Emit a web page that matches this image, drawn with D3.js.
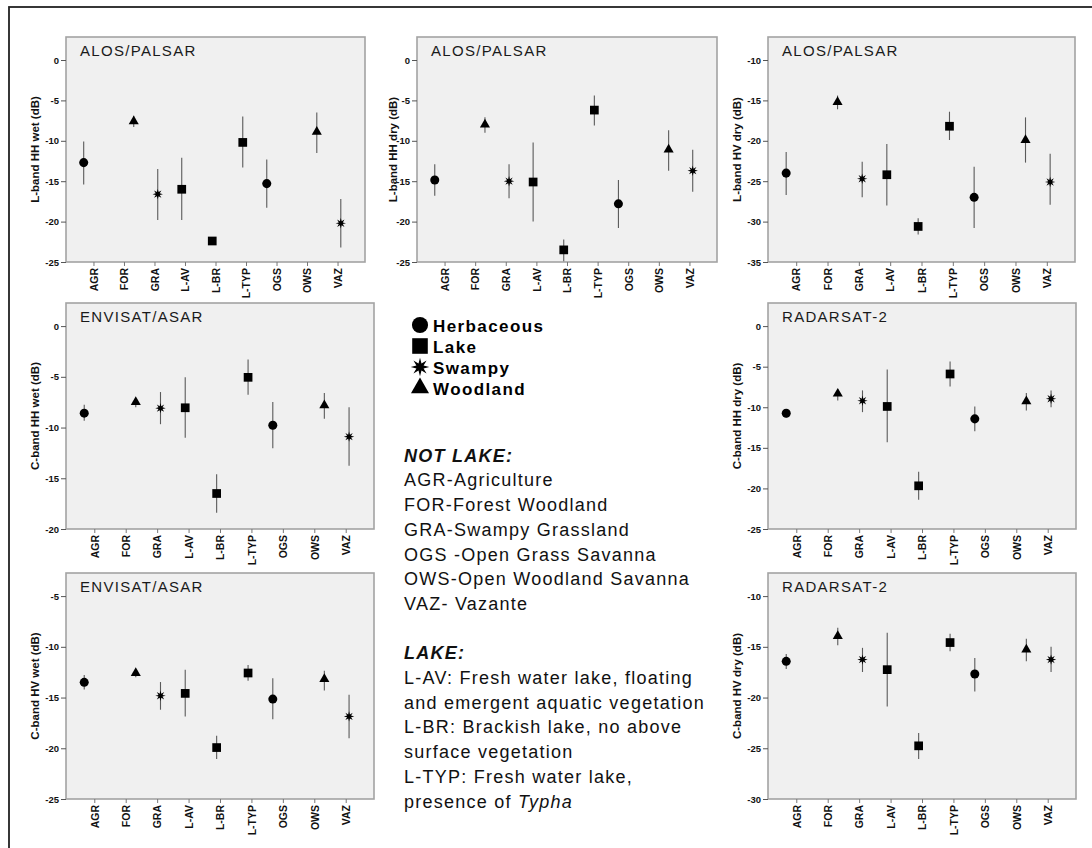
<!DOCTYPE html>
<html>
<head>
<meta charset="utf-8">
<script src="https://cdn.jsdelivr.net/npm/d3@7"></script>
<style>
  body { margin: 0; background: #fff; }
  svg { display: block; }
  text { font-family: "Liberation Sans", Arimo, Arial, sans-serif; }
</style>
</head>
<body>
<svg id="fig" width="1092" height="848"></svg>
<script>
// ---- categories and groups ----
const categories = ["AGR", "FOR", "GRA", "L-AV", "L-BR", "L-TYP", "OGS", "OWS", "VAZ"];
const categoryGroup = ["Herbaceous", "Woodland", "Swampy", "Lake", "Lake", "Lake", "Herbaceous", "Woodland", "Swampy"];
const groups = ["Herbaceous", "Lake", "Swampy", "Woodland"];

// ---- ALOS/PALSAR L-band HH wet (dB): mean and error bar ends ----
const alosHHwetMean = [-12.7, -7.6, -16.6, -16.0, -22.4, -10.2, -15.3, -8.9, -20.2];
const alosHHwetLow  = [-15.4, -8.3, -19.8, -19.8, -22.9, -13.3, -18.3, -11.5, -23.2];
const alosHHwetHigh = [-10.1, -6.9, -13.5, -12.1, -21.9, -7.0, -12.3, -6.5, -17.2];
const alosHHwetTicks = [-25, -20, -15, -10, -5, 0];

// ---- ALOS/PALSAR L-band HH dry ----
const alosHHdryMean = [-14.85, -8.0, -15.0, -15.1, -23.5, -6.2, -17.8, -11.1, -13.7];
const alosHHdryLow  = [-16.8, -9.0, -17.1, -20.0, -24.9, -8.1, -20.8, -13.7, -16.3];
const alosHHdryHigh = [-12.9, -7.1, -12.9, -10.2, -22.2, -4.4, -14.85, -8.7, -11.1];
const alosHHdryTicks = [-25, -20, -15, -10, -5, 0];

// ---- ALOS/PALSAR L-band HV dry ----
const alosHVdryMean = [-24.0, -15.2, -24.7, -24.2, -30.6, -18.2, -27.0, -19.9, -25.1];
const alosHVdryLow  = [-26.7, -16.1, -27.0, -28.0, -31.6, -19.9, -30.8, -22.7, -27.9];
const alosHVdryHigh = [-21.4, -14.4, -22.6, -20.4, -29.6, -16.4, -23.2, -17.1, -21.6];
const alosHVdryTicks = [-35, -30, -25, -20, -15, -10];

// ---- ENVISAT/ASAR C-band HH wet ----
const envHHwetMean = [-8.58, -7.5, -8.09, -8.05, -16.5, -5.05, -9.77, -7.82, -10.9];
const envHHwetLow  = [-9.34, -7.99, -9.67, -11.0, -18.4, -6.77, -12.05, -9.14, -13.76];
const envHHwetHigh = [-7.76, -7.16, -6.5, -5.05, -14.6, -3.3, -7.49, -6.6, -8.0];
const envHHwetTicks = [-20, -15, -10, -5, 0];

// ---- RADARSAT-2 C-band HH dry ----
const radHHdryMean = [-10.73, -8.33, -9.2, -9.9, -19.68, -5.9, -11.43, -9.28, -8.95];
const radHHdryLow  = [-11.26, -9.16, -10.6, -14.3, -21.4, -7.43, -12.95, -10.4, -10.0];
const radHHdryHigh = [-10.2, -7.76, -7.92, -5.36, -17.95, -4.37, -9.9, -8.25, -7.92];
const radHHdryTicks = [-25, -20, -15, -10, -5, 0];

// ---- ENVISAT/ASAR C-band HV wet ----
const envHVwetMean = [-13.5, -12.58, -14.82, -14.59, -19.93, -12.58, -15.15, -13.17, -16.86];
const envHVwetLow  = [-14.2, -13.0, -16.2, -16.86, -21.05, -13.34, -17.13, -14.3, -19.0];
const envHVwetHigh = [-12.78, -12.25, -13.47, -12.25, -18.77, -11.8, -13.1, -12.35, -14.72];
const envHVwetTicks = [-25, -20, -15, -10, -5];

// ---- RADARSAT-2 C-band HV dry ----
const radHVdryMean = [-16.43, -13.95, -16.26, -17.25, -24.76, -14.58, -17.68, -15.27, -16.26];
const radHVdryLow  = [-17.18, -14.84, -17.48, -20.87, -26.05, -15.44, -19.4, -16.43, -17.48];
const radHVdryHigh = [-15.7, -13.13, -15.1, -13.62, -23.5, -13.72, -16.1, -14.2, -15.0];
const radHVdryTicks = [-30, -25, -20, -15, -10];

// ---- legend / glossary text ----
const notLakeLines = ["AGR-Agriculture", "FOR-Forest Woodland", "GRA-Swampy Grassland",
  "OGS -Open Grass Savanna", "OWS-Open Woodland Savanna", "VAZ- Vazante"];
const lakeLines = ["L-AV: Fresh water lake, floating", "and emergent aquatic vegetation",
  "L-BR: Brackish lake, no above", "surface vegetation", "L-TYP: Fresh water lake,"];

const FONT = "'Liberation Sans', Arimo, Arial, sans-serif";

// asterisk-like filled star used for the Swampy group
const symbolAsterisk = {
  draw(ctx, size) {
    const r = Math.sqrt(size) * 0.62, ri = r * 0.42, n = 8;
    for (let i = 0; i < 2 * n; i++) {
      const a = i * Math.PI / n - Math.PI / 2;
      const rr = i % 2 ? ri : r;
      const px = rr * Math.cos(a), py = rr * Math.sin(a);
      i ? ctx.lineTo(px, py) : ctx.moveTo(px, py);
    }
    ctx.closePath();
  }
};
const groupSymbol = {
  Herbaceous: { type: d3.symbolCircle, size: 64 },
  Lake: { type: d3.symbolSquare, size: 76 },
  Swampy: { type: symbolAsterisk, size: 70 },
  Woodland: { type: d3.symbolTriangle, size: 44 }
};

// panel table: data references plus where each panel sits
const panels = [
  { title: "ALOS/PALSAR", ylab: "L-band HH wet (dB)", mean: alosHHwetMean, lo: alosHHwetLow, hi: alosHHwetHigh, ticks: alosHHwetTicks, box: [66, 37, 365, 262], labOff: 31 },
  { title: "ALOS/PALSAR", ylab: "L-band HH dry (dB)", mean: alosHHdryMean, lo: alosHHdryLow, hi: alosHHdryHigh, ticks: alosHHdryTicks, box: [417, 37, 717, 262], labOff: 24 },
  { title: "ALOS/PALSAR", ylab: "L-band HV dry (dB)", mean: alosHVdryMean, lo: alosHVdryLow, hi: alosHVdryHigh, ticks: alosHVdryTicks, box: [768, 37, 1075, 262], labOff: 31 },
  { title: "ENVISAT/ASAR", ylab: "C-band HH wet (dB)", mean: envHHwetMean, lo: envHHwetLow, hi: envHHwetHigh, ticks: envHHwetTicks, box: [66, 303, 374, 529], labOff: 31 },
  { title: "RADARSAT-2", ylab: "C-band HH dry (dB)", mean: radHHdryMean, lo: radHHdryLow, hi: radHHdryHigh, ticks: radHHdryTicks, box: [768, 303, 1076, 529], labOff: 31 },
  { title: "ENVISAT/ASAR", ylab: "C-band HV wet (dB)", mean: envHVwetMean, lo: envHVwetLow, hi: envHVwetHigh, ticks: envHVwetTicks, box: [66, 573, 374, 799], labOff: 31 },
  { title: "RADARSAT-2", ylab: "C-band HV dry (dB)", mean: radHVdryMean, lo: radHVdryLow, hi: radHVdryHigh, ticks: radHVdryTicks, box: [768, 573, 1076, 799], labOff: 31 }
];

const svg = d3.select("#fig");

// outer frame (runs past the right and bottom of the figure)
svg.append("rect")
  .attr("x", 9).attr("y", 7).attr("width", 1200).attr("height", 1000)
  .attr("fill", "none").attr("stroke", "#222").attr("stroke-width", 1.8);

panels.forEach(p => {
  const [x0, y0, x1, y1] = p.box;
  const g = svg.append("g");
  const tMin = p.ticks[0], tMax = p.ticks[p.ticks.length - 1];
  // the top tick sits a little below the frame top
  const yTop = tMax + (tMax - tMin) * 23 / 202;
  const y = d3.scaleLinear().domain([tMin, yTop]).range([y1, y0]);
  const x = d3.scalePoint().domain(categories).range([x0, x1]).padding(0.9);
  const step = x.step();
  const dodge = d3.scalePoint().domain(groups).range([-0.32 * step, 0.32 * step]);

  g.append("rect")
    .attr("x", x0).attr("y", y0).attr("width", x1 - x0).attr("height", y1 - y0)
    .attr("fill", "#f0f0f0").attr("stroke", "#a3a3a3").attr("stroke-width", 1.6);

  // y axis
  const ya = g.append("g").attr("transform", `translate(${x0},0)`)
    .call(d3.axisLeft(y).tickValues(p.ticks).tickSize(5).tickPadding(2).tickFormat(d => String(d)));
  ya.attr("font-family", FONT);
  ya.select(".domain").remove();
  ya.selectAll("line").attr("stroke", "#555");
  ya.selectAll("text").attr("font-size", 9.5).attr("font-weight", "bold").attr("fill", "#111");

  // x axis with rotated category labels
  const xa = g.append("g").attr("transform", `translate(0,${y1})`)
    .call(d3.axisBottom(x).tickSize(4));
  xa.attr("font-family", FONT);
  xa.select(".domain").remove();
  xa.selectAll("line").attr("stroke", "#777");
  xa.selectAll("text")
    .attr("transform", "rotate(-90)")
    .attr("text-anchor", "end")
    .attr("x", -6).attr("y", 0).attr("dy", "0.36em")
    .attr("font-size", 10.5).attr("font-weight", "bold").attr("fill", "#111");

  // y axis title
  g.append("text")
    .attr("transform", `translate(${x0 - p.labOff},${(y0 + y1) / 2}) rotate(-90)`)
    .attr("text-anchor", "middle").attr("dy", "0.36em")
    .attr("font-size", 11.5).attr("font-weight", "bold").attr("fill", "#111")
    .text(p.ylab);

  // panel title
  g.append("text")
    .attr("x", x0 + 14).attr("y", y0 + 18.5)
    .attr("font-size", 15).attr("letter-spacing", 1.3).attr("fill", "#1a1a1a")
    .text(p.title);

  const rows = categories.map((c, i) => ({
    cat: c, grp: categoryGroup[i], mean: p.mean[i], lo: p.lo[i], hi: p.hi[i]
  }));
  const px = d => x(d.cat) + dodge(d.grp);

  g.selectAll(".err").data(rows).join("line")
    .attr("x1", px).attr("x2", px)
    .attr("y1", d => y(d.lo)).attr("y2", d => y(d.hi))
    .attr("stroke", "#5a5a5a").attr("stroke-width", 1.1);

  g.selectAll(".pt").data(rows).join("path")
    .attr("transform", d => `translate(${px(d)},${y(d.mean)})`)
    .attr("d", d => d3.symbol().type(groupSymbol[d.grp].type).size(groupSymbol[d.grp].size)())
    .attr("fill", "#000");
});

// ---- legend ----
const legend = svg.append("g");
groups.forEach((grp, i) => {
  const cy = 325 + i * 21;
  const s = groupSymbol[grp];
  legend.append("path")
    .attr("transform", `translate(420,${cy})`)
    .attr("d", d3.symbol().type(s.type).size(s.size * 3.2)())
    .attr("fill", "#000");
  legend.append("text")
    .attr("x", 433).attr("y", cy + 6.5)
    .attr("font-size", 17).attr("font-weight", "bold").attr("letter-spacing", 1.4).attr("fill", "#000")
    .text(grp);
});

// ---- glossary ----
const lineH = 24.7, textX = 404;
let ly = 461.7;
const gloss = svg.append("g").attr("font-size", 18).attr("letter-spacing", 1.25).attr("fill", "#111");
gloss.append("text").attr("x", textX).attr("y", ly)
  .attr("font-weight", "bold").attr("font-style", "italic").text("NOT LAKE:");
notLakeLines.forEach(t => { ly += lineH; gloss.append("text").attr("x", textX).attr("y", ly).text(t); });
ly += 2 * lineH;
gloss.append("text").attr("x", textX).attr("y", ly)
  .attr("font-weight", "bold").attr("font-style", "italic").text("LAKE:");
lakeLines.forEach(t => { ly += lineH; gloss.append("text").attr("x", textX).attr("y", ly).text(t); });
ly += lineH;
const last = gloss.append("text").attr("x", textX).attr("y", ly);
last.append("tspan").text("presence of ");
last.append("tspan").attr("font-style", "italic").text("Typha");
</script>
</body>
</html>
